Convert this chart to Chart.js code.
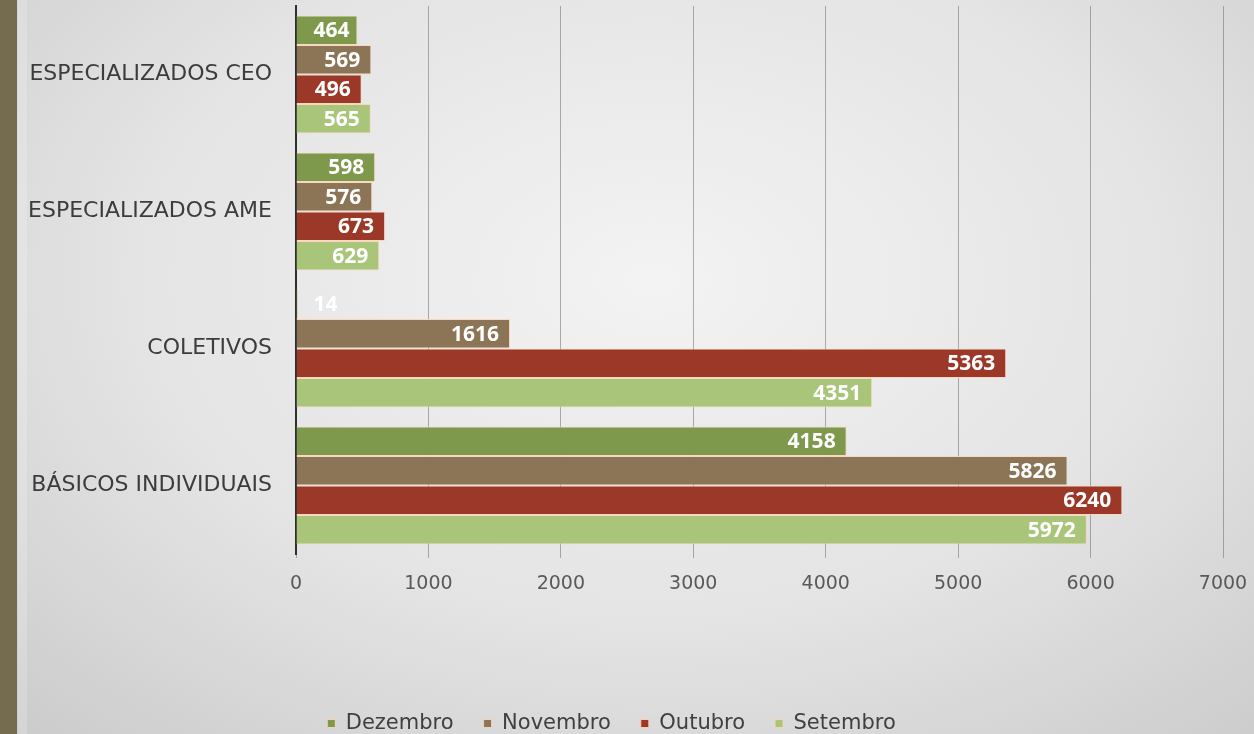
<!DOCTYPE html>
<html>
<head>
<meta charset="utf-8">
<script src="https://cdn.jsdelivr.net/npm/chart.js@4"></script>
<style>
  html, body { margin: 0; padding: 0; }
  body {
    width: 1254px; height: 734px; overflow: hidden; position: relative;
    background: radial-gradient(ellipse 75% 85% at 52% 38%, #f3f3f3 0%, #e4e4e4 55%, #cbcbcb 100%);
  }
  .strip { position: absolute; left: 0; top: 0; width: 17px; height: 734px; background: #756b4f; }
  .strip2 { position: absolute; left: 18px; top: 0; width: 9px; height: 734px; background: rgba(255,255,255,0.18); }
  #wrap { position: absolute; left: 0; top: 0; width: 1254px; height: 734px; }
</style>
</head>
<body>
<div class="strip"></div>
<div class="strip2"></div>
<div id="wrap"><canvas id="chart"></canvas></div>
<script>
// Data
const categories = ['ESPECIALIZADOS CEO', 'ESPECIALIZADOS AME', 'COLETIVOS', 'BÁSICOS INDIVIDUAIS'];
const dezembro = [464, 598, 14, 4158];
const novembro = [569, 576, 1616, 5826];
const outubro = [496, 673, 5363, 6240];
const setembro = [565, 629, 4351, 5972];
const xTicks = [0, 1000, 2000, 3000, 4000, 5000, 6000, 7000];

const labelFont = "'DejaVu Sans', sans-serif";

// value labels drawn at the end of each bar
const valueLabels = {
    id: 'valueLabels',
    afterDatasetsDraw(chart) {
        const ctx = chart.ctx;
        ctx.save();
        ctx.font = "bold 21px 'Open Sans', sans-serif";
        ctx.fillStyle = '#ffffff';
        ctx.textAlign = 'right';
        ctx.textBaseline = 'middle';
        chart.data.datasets.forEach((ds, i) => {
            const meta = chart.getDatasetMeta(i);
            meta.data.forEach((bar, j) => {
                const txt = String(ds.data[j]);
                const w = ctx.measureText(txt).width;
                const x = Math.max(bar.x - 11, bar.base + w + 17);
                ctx.fillText(txt, x, bar.y + 1);
            });
        });
        ctx.restore();
    }
};

// keep the chart area where the reference has it
const noPad = (scale) => {
    scale.paddingTop = 0;
    scale.paddingBottom = 0;
    scale.paddingLeft = 0;
    scale.paddingRight = 0;
};

const ctx = document.getElementById('chart').getContext('2d');
const chart = new Chart(ctx, {
    type: 'bar',
    data: {
        labels: categories,
        datasets: [
            { label: 'Dezembro', data: dezembro, backgroundColor: '#7e994b' },
            { label: 'Novembro', data: novembro, backgroundColor: '#8b7556' },
            { label: 'Outubro', data: outubro, backgroundColor: '#9b3828' },
            { label: 'Setembro', data: setembro, backgroundColor: '#a9c57a' }
        ].map(d => ({
            ...d,
            borderColor: 'rgba(250, 214, 186, 0.9)',
            borderWidth: 1,
            barPercentage: 1,
            categoryPercentage: 0.86
        }))
    },
    plugins: [valueLabels],
    options: {
        indexAxis: 'y',
        responsive: true,
        maintainAspectRatio: false,
        animation: false,
        layout: { padding: { top: 6, right: 31, bottom: -10, left: 0 } },
        plugins: {
            tooltip: { enabled: false },
            legend: {
                position: 'bottom',
                labels: {
                    color: '#404040',
                    font: { family: labelFont, size: 21 },
                    boxWidth: 8,
                    boxHeight: 8,
                    padding: 30
                }
            }
        },
        scales: {
            x: {
                min: 0,
                max: 7000,
                afterBuildTicks: (scale) => { scale.ticks = xTicks.map(v => ({ value: v })); },
                afterFit: (scale) => { noPad(scale); scale.height = 129; },
                grid: { color: 'rgba(100, 100, 100, 0.5)', lineWidth: 1, tickLength: 4, drawTicks: true },
                border: { display: false },
                ticks: {
                    color: '#595959',
                    font: { family: labelFont, size: 19 },
                    padding: 15,
                    callback: (v) => String(v)
                }
            },
            y: {
                afterFit: (scale) => { noPad(scale); scale.width = 296; },
                grid: { display: false, drawTicks: false },
                border: { color: '#2e2e2e', width: 2 },
                ticks: {
                    color: '#3c3c3c',
                    font: { family: labelFont, size: 22 },
                    padding: 24
                }
            }
        }
    }
});
</script>
</body>
</html>
